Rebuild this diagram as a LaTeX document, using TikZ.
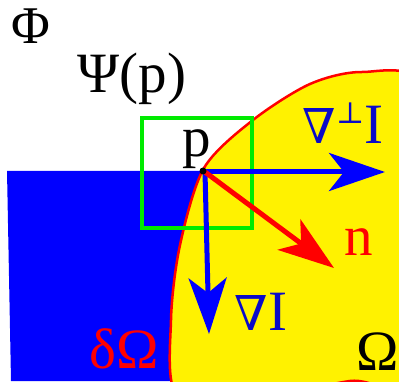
\documentclass[tikz,border=0pt]{standalone}
\usepackage{fontspec}
\setmainfont{Liberation Serif}
\newfontfamily\opfont{DejaVu Serif}
\usepackage{tikz}
\usetikzlibrary{arrows.meta}
\definecolor{regionblue}{RGB}{0,0,255}
\definecolor{labelblue}{RGB}{10,10,200}
\definecolor{boxgreen}{RGB}{0,235,0}
\newcommand{\nablasym}{{\opfont\fontsize{48}{50}\selectfont ∇}}
\begin{document}
\begin{tikzpicture}[x=1pt,y=-1pt,line width=5pt,>={Stealth[length=56pt,width=38pt,inset=15pt]},
  every node/.style={inner sep=0pt,font=\fontsize{57}{60}\selectfont}]
  \useasboundingbox (0,0) rectangle (399,385);

  \begin{scope}
    \clip (0,0) rectangle (399,381);
    \fill[regionblue] (7,171) -- (11,381) -- (260,381) -- (260,171) -- cycle;
    \draw[red,line width=2.5pt,fill=yellow] plot[smooth cycle] coordinates {
      (177,395) (171,320) (180,245) (204,168) (253,120) (310,84)
      (362,72) (425,85) (470,230) (410,379) (350,381) (250,400)};
  \end{scope}

  \draw[boxgreen,line width=3.5pt] (142,118) rectangle (252,228);

  \coordinate (P) at (205,172);
  \coordinate (H) at (385,172);
  \coordinate (V) at (209,334);
  \coordinate (N) at (334,268);

  \draw[->,regionblue] (P) -- (H);
  \draw[->,regionblue] (P) -- (V);
  \draw[->,red] (P) -- (N);
  \fill (203,171) circle (3.5pt);

  \node[anchor=base,font=\fontsize{53}{56}\selectfont] (phi) at (31,44) {Φ};
  \node[anchor=base] (psi) at (132,93) {Ψ(p)};
  \node[anchor=base] (p) at (197,157) {p};
  \node[anchor=base west,text=labelblue] (perpgrad) at (300,143)
    {\nablasym\raisebox{20pt}{\opfont\fontsize{30}{32}\selectfont ⊥}I};
  \node[anchor=base west,text=red] (n) at (342,255) {n};
  \node[anchor=base west,text=labelblue] (grad) at (232,330) {\nablasym I};
  \node[anchor=base west,text=red] (bound) at (87,368) {δΩ};
  \node[anchor=base west] (omega) at (354,370) {Ω};
\end{tikzpicture}
\end{document}
